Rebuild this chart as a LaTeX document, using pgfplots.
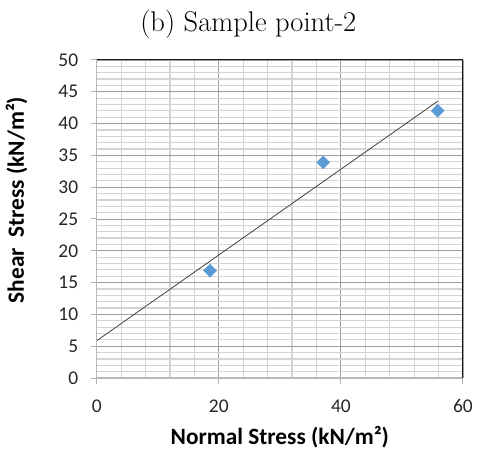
\documentclass[border=0pt]{standalone}
\usepackage{pgfplots}
\pgfplotsset{compat=1.18}
\usepackage{fontspec}
\newfontfamily\carlito{Carlito}
\definecolor{mk}{HTML}{5B9BD5}
\begin{document}
\begin{tikzpicture}
\useasboundingbox (-96.7bp,-73bp) rectangle (380.3bp,378bp);
\begin{axis}[
  at={(0,0)}, anchor=south west,
  width=366.3bp, height=318bp, scale only axis,
  xmin=0, xmax=60, ymin=0, ymax=50,
  xtick={0,20,40,60}, ytick={0,5,...,50},
  minor x tick num=4, minor y tick num=4,
  grid=both,
  major grid style={color=black!38, line width=0.9bp},
  minor grid style={color=black!17, line width=1.2bp},
  axis line style={draw=none},
  tick align=outside, xtick pos=bottom, ytick pos=left,
  major tick length=6bp, minor tick length=0pt,
  tick style={color=black!30, line width=1bp},
  /pgf/number format/assume math mode=true,
  ticklabel style={font=\carlito\fontsize{19.5}{22}\selectfont, text=black!85},
  xticklabel style={yshift=-12bp},
  yticklabel style={xshift=-9bp},
  xlabel={Normal Stress (kN/m²)},
  ylabel={Shear\ \ Stress (kN/m²)},
  xlabel style={font=\carlito\bfseries\fontsize{23.4}{26}\selectfont, at={(axis description cs:0.5,-0.1855)}, anchor=center},
  ylabel style={font=\carlito\bfseries\fontsize{23.4}{26}\selectfont, at={(axis description cs:-0.219,0.56)}, anchor=center},
  title={(b) Sample point-2},
  title style={font=\fontsize{28.6}{32}\selectfont, at={(0.414,1)}, anchor=center, yshift=30bp},
  clip=false,
]
\addplot[no marks, color=black!75, line width=0.8bp] coordinates {(0,5.86) (55.85,43.51)};
\addplot[only marks, mark=square*, mark size=4.6bp, mark options={rotate=45, fill=mk, draw=mk}] coordinates {(18.56,16.87) (37.12,33.9) (55.85,42.03)};
\draw[black!28, line width=1.6bp] (rel axis cs:0,0) -- (rel axis cs:0,1);
\draw[black!28, line width=1.6bp] (rel axis cs:0,0) -- (rel axis cs:1,0);
\draw[black!90, line width=1bp] (rel axis cs:0,1) -- (rel axis cs:1,1) -- (rel axis cs:1,0);
\end{axis}
\end{tikzpicture}
\end{document}
